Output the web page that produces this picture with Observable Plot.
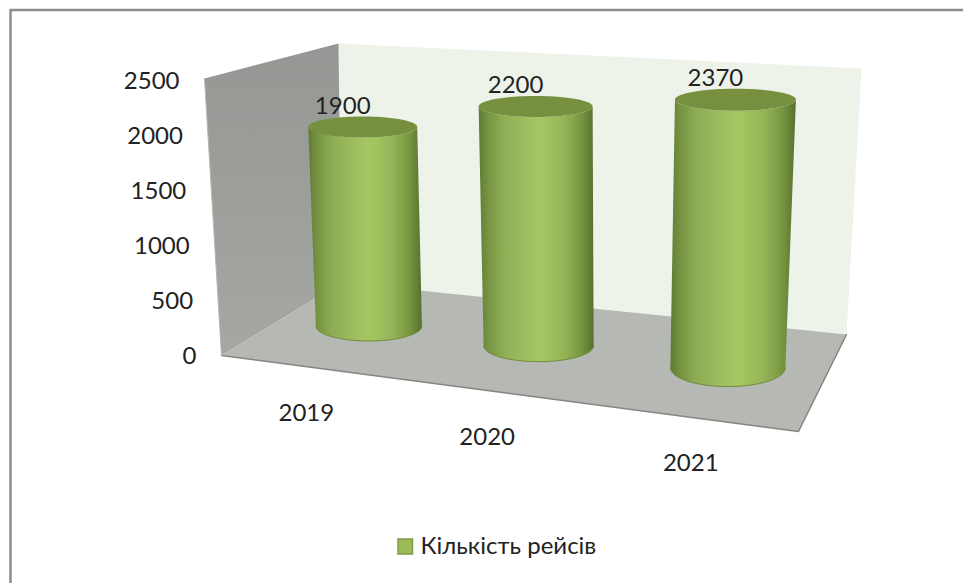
<!DOCTYPE html>
<html>
<head>
<meta charset="utf-8">
<script src="https://cdn.jsdelivr.net/npm/d3@7"></script>
<script src="https://cdn.jsdelivr.net/npm/@observablehq/plot@0.6"></script>
<style>
  html, body { margin: 0; padding: 0; background: #fff; }
  svg { display: block; }
</style>
</head>
<body>
<div id="chart"></div>
<script>
// Number of flights per year, drawn as 3D cylinders in a perspective box.
const years = ["2019", "2020", "2021"];
const flights = [1900, 2200, 2370];
const valueTicks = [0, 500, 1000, 1500, 2000, 2500];
const legendLabel = "Кількість рейсів";

const width = 963, height = 583;
const valueMax = 2500;
const font = "Lato, 'Noto Sans', sans-serif";

// Box corners on the canvas: floor and ceiling, listed front-left, front-right, back-right, back-left.
const floorQuad = [[221, 355], [798, 431], [846, 334], [341, 282]];
const ceilingQuad = [[204, 78], [815, 118], [861, 68], [338, 43]];

// Where a cylinder sits inside its category slot, and its depth in the box.
const slotCentre = 0.53, slotDepth = 0.5;

// Cylinder ellipse radii, per cylinder, at the base and at the cap.
const baseRx = [53, 55, 57.5], baseRy = [15, 16, 19];
const capRx = [54.5, 57, 60.5], capRy = [10.5, 10.5, 11];

// Homography from the unit square onto a quadrilateral.
function squareToQuad([[x0, y0], [x1, y1], [x2, y2], [x3, y3]]) {
  const dx1 = x1 - x2, dx2 = x3 - x2, dx3 = x0 - x1 + x2 - x3;
  const dy1 = y1 - y2, dy2 = y3 - y2, dy3 = y0 - y1 + y2 - y3;
  const det = dx1 * dy2 - dx2 * dy1;
  const g = (dx3 * dy2 - dx2 * dy3) / det;
  const h = (dx1 * dy3 - dx3 * dy1) / det;
  const a = x1 - x0 + g * x1, b = x3 - x0 + h * x3;
  const d = y1 - y0 + g * y1, e = y3 - y0 + h * y3;
  return (u, w) => {
    const k = g * u + h * w + 1;
    return [(a * u + b * w + x0) / k, (d * u + e * w + y0) / k];
  };
}
const onFloor = squareToQuad(floorQuad);
const onCeiling = squareToQuad(ceilingQuad);

// u: across the categories (0..1), value: flights, w: depth from front (0) to back (1).
function project(u, value, w) {
  const [fx, fy] = onFloor(u, w), [cx, cy] = onCeiling(u, w);
  const t = value / valueMax;
  return [fx + (cx - fx) * t, fy + (cy - fy) * t];
}

const pt = ([x, y]) => ({x, y});
const wall = (corners) => corners.map((c) => pt(project(...c)));

const backWall = wall([[0, 0, 1], [1, 0, 1], [1, valueMax, 1], [0, valueMax, 1]]);
const sideWall = wall([[0, 0, 0], [0, 0, 1], [0, valueMax, 1], [0, valueMax, 0]]);
const floorPlane = wall([[0, 0, 0], [1, 0, 0], [1, 0, 1], [0, 0, 1]]);
const frontEdge = wall([[0, 0, 0], [1, 0, 0], [1, 0, 1]]);

// A filled closed outline.
const polygon = (points, fill) =>
  Plot.line([...points, points[0]], {x: "x", y: "y", fill, stroke: "none"});

// Half-ellipse samples from left to right, sweeping below (+1) or above (-1) the centre.
const arc = ([cx, cy], rx, ry, side) =>
  d3.range(0, 49).map((i) => {
    const a = Math.PI * (i / 48);
    return {x: cx - rx * Math.cos(a), y: cy + side * ry * Math.sin(a)};
  });

const cylinders = flights.map((value, i) => {
  const u = (i + slotCentre) / years.length;
  const base = project(u, 0, slotDepth), cap = project(u, value, slotDepth);
  return {
    year: years[i], value, base, cap,
    body: [...arc(cap, capRx[i], capRy[i], 1),
           ...arc(base, baseRx[i], baseRy[i], 1).reverse()],
    lid: [...arc(cap, capRx[i], capRy[i], -1),
          ...arc(cap, capRx[i], capRy[i], 1).reverse()],
    rim: arc(base, baseRx[i], baseRy[i], 1)
  };
});

// Shading that runs round the cylinder wall.
function shading() {
  const defs = d3.create("svg:defs");
  const g = defs.append("linearGradient").attr("id", "cyl").attr("x1", 0).attr("x2", 1).attr("y1", 0).attr("y2", 0);
  [[0, "#5f7b35"], [0.07, "#739140"], [0.2, "#8dab52"], [0.42, "#a0bf60"], [0.55, "#a5c762"],
   [0.75, "#94b357"], [0.9, "#76943f"], [1, "#566f30"]].forEach(([o, c]) =>
    g.append("stop").attr("offset", o).attr("stop-color", c));
  const s = defs.append("linearGradient").attr("id", "side").attr("x1", 0).attr("x2", 0).attr("y1", 0).attr("y2", 1);
  s.append("stop").attr("offset", 0).attr("stop-color", "#959794");
  s.append("stop").attr("offset", 1).attr("stop-color", "#a5a7a3");
  return defs.node();
}

const plot = Plot.plot({
  width, height,
  margin: 0,
  x: {domain: [0, width], range: [0, width], axis: null},
  y: {domain: [0, height], range: [0, height], axis: null},
  marks: [
    shading,
    // Chart area outline: only its top and left edges fall on the canvas
    Plot.line([{x: 10, y: height}, {x: 10, y: 9.5}, {x: width, y: 9.5}], {
      x: "x", y: "y", stroke: "#8c8c8c", strokeWidth: 2.5
    }),
    polygon(backWall, "#eef3ea"),
    polygon(sideWall, "url(#side)"),
    polygon(floorPlane, "#b6b8b3"),
    Plot.line(frontEdge, {x: "x", y: "y", stroke: "#838581", strokeWidth: 1.5}),
    Plot.line(wall([[0, 0, 0], [0, valueMax, 0]]), {x: "x", y: "y", stroke: "#b4b6b2", strokeWidth: 1}),
    // Cylinders
    ...cylinders.flatMap((c) => [
      polygon(c.body, "url(#cyl)"),
      Plot.line(c.rim, {x: "x", y: "y", stroke: "#6f8c3c", strokeWidth: 1}),
      polygon(c.lid, "#76903f")
    ]),
    // Value labels above each cap
    Plot.text(cylinders, {
      x: (c) => c.cap[0] - 20, y: (c) => c.cap[1] - 21, text: (c) => String(c.value),
      fontFamily: font, fontSize: 24, fill: "#222", textAnchor: "middle"
    }),
    // Value axis along the front-left edge
    Plot.text(valueTicks, {
      x: (v) => project(0, v, 0)[0] - 25,
      y: (v) => project(0, v, 0)[1] + 1 + v / 1250,
      text: (v) => String(v),
      fontFamily: font, fontSize: 24, fill: "#222", textAnchor: "end"
    }),
    // Category labels below the front edge
    Plot.text(years, {
      x: (d, i) => project((i + slotCentre) / years.length, 0, 0)[0] - 3,
      y: (d, i) => project((i + slotCentre) / years.length, 0, 0)[1] + 46,
      text: (d) => d,
      fontFamily: font, fontSize: 24, fill: "#222", textAnchor: "middle"
    }),
    // Legend
    Plot.rect([legendLabel], {
      x1: () => 398, x2: () => 412.5, y1: () => 539, y2: () => 554,
      fill: "#9bbb59", stroke: "#7f9a48", strokeWidth: 1.5
    }),
    Plot.text([legendLabel], {
      x: () => 420, y: () => 546, text: (d) => d,
      fontFamily: font, fontSize: 24, fill: "#222", textAnchor: "start"
    })
  ]
});

document.getElementById("chart").append(plot);
</script>
</body>
</html>
